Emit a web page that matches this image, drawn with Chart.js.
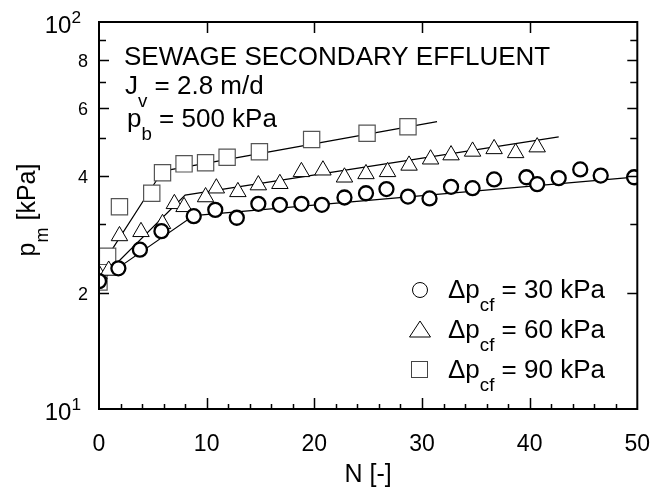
<!DOCTYPE html>
<html>
<head>
<meta charset="utf-8">
<script src="https://cdn.jsdelivr.net/npm/chart.js@4.4.1/dist/chart.umd.min.js"></script>
<style>
  html, body { margin: 0; padding: 0; background: #fff; }
  #wrap { width: 650px; height: 504px; }
</style>
</head>
<body>
<div id="wrap"><canvas id="pmChart" width="650" height="504"></canvas></div>
<script>
// measured points (N, p_m)
const circleN = [0, 1.8, 3.8, 5.8, 8.8, 10.8, 12.8, 14.8, 16.8, 18.8, 20.7, 22.8, 24.8, 26.7, 28.7, 30.7, 32.7, 34.7, 36.7, 39.7, 40.7, 42.7, 44.7, 46.6, 49.7];
const circleP = [21.4, 23.1, 25.8, 28.8, 31.5, 32.7, 31.2, 33.9, 33.7, 33.9, 33.7, 35.2, 36.1, 37.0, 35.4, 35.0, 37.5, 37.2, 39.2, 39.7, 38.1, 39.5, 41.6, 40.1, 39.7];

const triN = [0, 0.9, 1.9, 3.9, 5.9, 7.0, 7.9, 9.9, 10.9, 12.9, 14.8, 16.8, 18.8, 20.8, 22.8, 24.8, 26.8, 28.8, 30.8, 32.7, 34.7, 36.7, 38.7, 40.7];
const triP = [22.3, 22.8, 28.0, 28.7, 30.1, 33.9, 33.3, 35.3, 37.2, 36.4, 37.9, 38.2, 41.0, 41.4, 39.7, 40.5, 41.0, 42.6, 44.2, 45.3, 46.3, 47.0, 45.9, 47.5];

const squareN = [0, 0.8, 1.9, 4.9, 5.9, 7.9, 9.9, 11.9, 14.9, 19.75, 24.9, 28.7];
const squareP = [21.3, 24.8, 33.3, 36.1, 40.8, 43.0, 43.3, 44.7, 46.2, 49.7, 51.6, 53.6];

// two-segment fit lines
const circleFitN = [0, 8.8, 50];
const circleFitP = [21.4, 31.6, 39.8];
const triFitN = [0.9, 8.0, 42.7];
const triFitP = [22.7, 35.7, 50.5];
const squareFitN = [0.8, 5.9, 31.4];
const squareFitP = [24.8, 41.2, 55.3];

const xMajor = [0, 10, 20, 30, 40, 50];
const yMajor = [20, 40, 60, 80];
const yMinor = [30, 50, 70, 90];
const yMajorLabels = ['2', '4', '6', '8'];
const legendLabels = ['30', '60', '90'];

const FONT = 'Arial, "Liberation Sans", Helvetica, sans-serif';

function pts(xs, ys) { return xs.map((x, i) => ({ x: x, y: ys[i] })); }

function fitSet(xs, ys) {
  return { data: pts(xs, ys), showLine: true, borderColor: '#000', borderWidth: 1.2,
           pointRadius: 0, fill: false, order: 10 };
}

// draw text runs: [text, 'n'|'sub'|'sup']
function runs(ctx, x, y, parts, size) {
  let cx = x;
  parts.forEach(p => {
    const s = p[1] === 'n' ? size : size * 0.72;
    const dy = p[1] === 'sub' ? size * 0.5 : (p[1] === 'sup' ? -size * 0.42 : 0);
    ctx.font = s + 'px ' + FONT;
    ctx.fillText(p[0], cx, y + dy);
    cx += ctx.measureText(p[0]).width;
  });
  return cx - x;
}
function runsWidth(ctx, parts, size) {
  let w = 0;
  parts.forEach(p => {
    const s = p[1] === 'n' ? size : size * 0.72;
    ctx.font = s + 'px ' + FONT;
    w += ctx.measureText(p[0]).width;
  });
  return w;
}

const decor = {
  id: 'decor',
  afterDraw(chart) {
    const ctx = chart.ctx, a = chart.chartArea;
    const xs = chart.scales.x, ys = chart.scales.y;
    ctx.save();
    ctx.strokeStyle = '#000';
    ctx.fillStyle = '#000';
    ctx.lineWidth = 2;
    ctx.strokeRect(a.left, a.top, a.right - a.left, a.bottom - a.top);

    // ticks
    ctx.lineWidth = 1.5;
    ctx.beginPath();
    for (let n = 2; n < 50; n += 2) {
      const px = Math.round(xs.getPixelForValue(n)) + 0.5;
      const len = n % 10 === 0 ? 11 : 5;
      ctx.moveTo(px, a.bottom); ctx.lineTo(px, a.bottom - len);
      if (n % 10 === 0) { ctx.moveTo(px, a.top); ctx.lineTo(px, a.top + len); }
    }
    yMajor.concat(yMinor).forEach(v => {
      const py = Math.round(ys.getPixelForValue(v)) + 0.5;
      const len = yMajor.includes(v) ? 10 : 7;
      ctx.moveTo(a.left, py); ctx.lineTo(a.left + len, py);
      ctx.moveTo(a.right, py); ctx.lineTo(a.right - len, py);
    });
    ctx.stroke();

    // x tick labels
    ctx.textBaseline = 'alphabetic';
    ctx.textAlign = 'center';
    ctx.font = '23px ' + FONT;
    xMajor.forEach(n => ctx.fillText(String(n), xs.getPixelForValue(n), 451));

    // y tick labels
    ctx.textAlign = 'right';
    ctx.font = '18px ' + FONT;
    yMajor.forEach((v, i) => ctx.fillText(yMajorLabels[i], 88, ys.getPixelForValue(v) + 7));
    ctx.textAlign = 'left';
    [[10, '1'], [100, '2']].forEach(d => {
      const py = ys.getPixelForValue(d[0]) + 11;
      const parts = [['10', 'n'], [d[1], 'sup']];
      const w = runsWidth(ctx, parts, 24);
      runs(ctx, 81 - w, py, parts, 24);
    });

    // axis titles
    ctx.textAlign = 'left';
    ctx.font = '25px ' + FONT;
    const tw = ctx.measureText('N [-]').width;
    ctx.fillText('N [-]', (a.left + a.right) / 2 - tw / 2, 482);

    ctx.save();
    ctx.translate(35, 210);
    ctx.rotate(-Math.PI / 2);
    const yt = [['p', 'n'], ['m', 'sub'], [' [kPa]', 'n']];
    const yw = runsWidth(ctx, yt, 25);
    runs(ctx, -yw / 2, 0, yt, 25);
    ctx.restore();

    // annotations
    ctx.font = '26px ' + FONT;
    ctx.fillText('SEWAGE SECONDARY EFFLUENT', 124, 65);
    runs(ctx, 125, 94, [['J', 'n'], ['v', 'sub'], [' = 2.8 m/d', 'n']], 26);
    runs(ctx, 127, 127, [['p', 'n'], ['b', 'sub'], [' = 500 kPa', 'n']], 26);

    // legend
    const ly = [298, 338, 378];
    ctx.lineWidth = 1;
    ctx.strokeStyle = '#000';
    ctx.beginPath(); ctx.arc(420, ly[0] - 8, 7.5, 0, Math.PI * 2); ctx.stroke();
    ctx.beginPath();
    ctx.moveTo(420, ly[1] - 17); ctx.lineTo(430.5, ly[1] - 1); ctx.lineTo(409.5, ly[1] - 1); ctx.closePath(); ctx.stroke();
    ctx.strokeStyle = '#444';
    ctx.strokeRect(411.5, ly[2] - 16.5, 16, 16);
    ctx.fillStyle = '#000';
    legendLabels.forEach((t, i) => {
      runs(ctx, 448, ly[i], [['\u0394p', 'n'], ['cf', 'sub'], [' = ' + t + ' kPa', 'n']], 26);
    });
    ctx.restore();
  }
};

new Chart(document.getElementById('pmChart'), {
  type: 'scatter',
  data: {
    datasets: [
      fitSet(circleFitN, circleFitP),
      fitSet(triFitN, triFitP),
      fitSet(squareFitN, squareFitP),
      { data: pts(squareN, squareP), pointStyle: 'rect', pointRadius: 11.5, pointBorderWidth: 1.2,
        pointBorderColor: '#555', pointBackgroundColor: '#fff', order: 3 },
      { data: pts(triN, triP), pointStyle: 'triangle', pointRadius: 9.5, pointBorderWidth: 1,
        pointBorderColor: '#000', pointBackgroundColor: '#fff', order: 2 },
      { data: pts(circleN, circleP), pointStyle: 'circle', pointRadius: 7, pointBorderWidth: 2.3,
        pointBorderColor: '#000', pointBackgroundColor: '#fff', order: 1 }
    ]
  },
  options: {
    responsive: false,
    animation: false,
    layout: { padding: { left: 0, right: 11, top: 22, bottom: 0 } },
    plugins: { legend: { display: false }, tooltip: { enabled: false } },
    scales: {
      x: {
        type: 'linear', min: 0, max: 50,
        grid: { display: false }, border: { display: false },
        ticks: { display: false },
        afterFit(s) { s.height = 95; }
      },
      y: {
        type: 'logarithmic', min: 10, max: 100,
        grid: { display: false }, border: { display: false },
        ticks: { display: false },
        afterFit(s) { s.width = 99; }
      }
    }
  },
  plugins: [decor]
});
</script>
</body>
</html>
